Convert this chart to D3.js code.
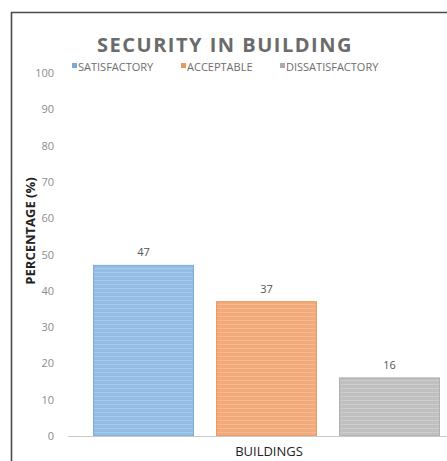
<!DOCTYPE html>
<html>
<head>
<meta charset="utf-8">
<script src="https://cdn.jsdelivr.net/npm/d3@7"></script>
<style>
  html, body { margin: 0; padding: 0; background: #fff; }
  svg { display: block; }
  text { font-family: "Open Sans", "Noto Sans", sans-serif; }
</style>
</head>
<body>
<svg id="chart" width="447" height="461"></svg>
<script>
const title = "SECURITY IN BUILDING";
const categories = ["SATISFACTORY", "ACCEPTABLE", "DISSATISFACTORY"];
const values = [47, 37, 16];
const yTicks = [0, 10, 20, 30, 40, 50, 60, 70, 80, 90, 100];
const xLabel = "BUILDINGS";
const yLabel = "PERCENTAGE (%)";
const fills = ["#93bde4", "#f2aa7b", "#c0c0c0"];
const strokes = ["#7aaad8", "#e9965f", "#adadad"];
const lines = ["#b5d2ee", "#f7c4a2", "#d6d6d6"];

const svg = d3.select("#chart");

// frame
svg.append("path")
  .attr("d", "M11.5,470 L11.5,12.5 L460,12.5")
  .attr("fill", "none").attr("stroke", "#4a4a4a").attr("stroke-width", 1.6);

const y = d3.scaleLinear().domain([0, 100]).range([436, 73]);
const x = d3.scaleBand().domain(categories).range([82, 451])
  .paddingInner(0.18).paddingOuter(0.09);

// patterns (striped look)
const defs = svg.append("defs");
categories.forEach((c, i) => {
  const p = defs.append("pattern").attr("id", "pat" + i)
    .attr("patternUnits", "userSpaceOnUse").attr("width", 8).attr("height", 4);
  p.append("rect").attr("width", 8).attr("height", 4).attr("fill", fills[i]);
  p.append("rect").attr("y", 0).attr("width", 8).attr("height", 1).attr("fill", lines[i]).attr("opacity", 0.6);
});

// y axis ticks (labels only)
const yAxis = d3.axisLeft(y).tickValues(yTicks).tickSize(0).tickPadding(0);
const gy = svg.append("g").attr("transform", "translate(54,0)").call(yAxis);
gy.select(".domain").remove();
gy.selectAll("text").attr("fill", "#8c8c8c").style("font-size", "11px")
  .style("font-family", "'Open Sans', sans-serif");

// bars
svg.selectAll("rect.bar").data(values).enter().append("rect")
  .attr("class", "bar")
  .attr("x", (d, i) => x(categories[i]) + 0.5)
  .attr("y", d => y(d))
  .attr("width", x.bandwidth() - 1)
  .attr("height", d => y(0) - y(d))
  .attr("fill", (d, i) => "url(#pat" + i + ")")
  .attr("stroke", (d, i) => strokes[i]).attr("stroke-width", 1);

// value labels
svg.selectAll("text.val").data(values).enter().append("text")
  .attr("class", "val")
  .attr("x", (d, i) => x(categories[i]) + x.bandwidth() / 2)
  .attr("y", d => y(d) - 9)
  .attr("text-anchor", "middle")
  .attr("fill", "#555").style("font-size", "11px")
  .text(d => d);

// x axis line
svg.append("line").attr("x1", 68).attr("x2", 447)
  .attr("y1", y(0) + 0.5).attr("y2", y(0) + 0.5)
  .attr("stroke", "#c8c8c8").attr("stroke-width", 1.2);

// title
svg.append("text").attr("x", 225).attr("y", 52).attr("text-anchor", "middle")
  .attr("fill", "#6b6b6b").style("font-size", "20px").style("font-weight", "bold")
  .style("letter-spacing", "1.5px")
  .text(title);

// legend
const legX = [72, 181, 280];
categories.forEach((c, i) => {
  svg.append("rect").attr("x", legX[i]).attr("y", 63).attr("width", 5).attr("height", 5)
    .attr("fill", strokes[i]);
  svg.append("text").attr("x", legX[i] + 6).attr("y", 70.5)
    .attr("fill", "#6e6e6e").style("font-size", "11px").text(c);
});

// axis titles
svg.append("text").attr("x", 269).attr("y", 456).attr("text-anchor", "middle")
  .attr("fill", "#222").style("font-size", "13px").text(xLabel);
svg.append("text").attr("transform", "translate(35,231) rotate(-90)")
  .attr("text-anchor", "middle").attr("fill", "#222")
  .style("font-size", "13px").style("font-weight", "bold").text(yLabel);
</script>
</body>
</html>
